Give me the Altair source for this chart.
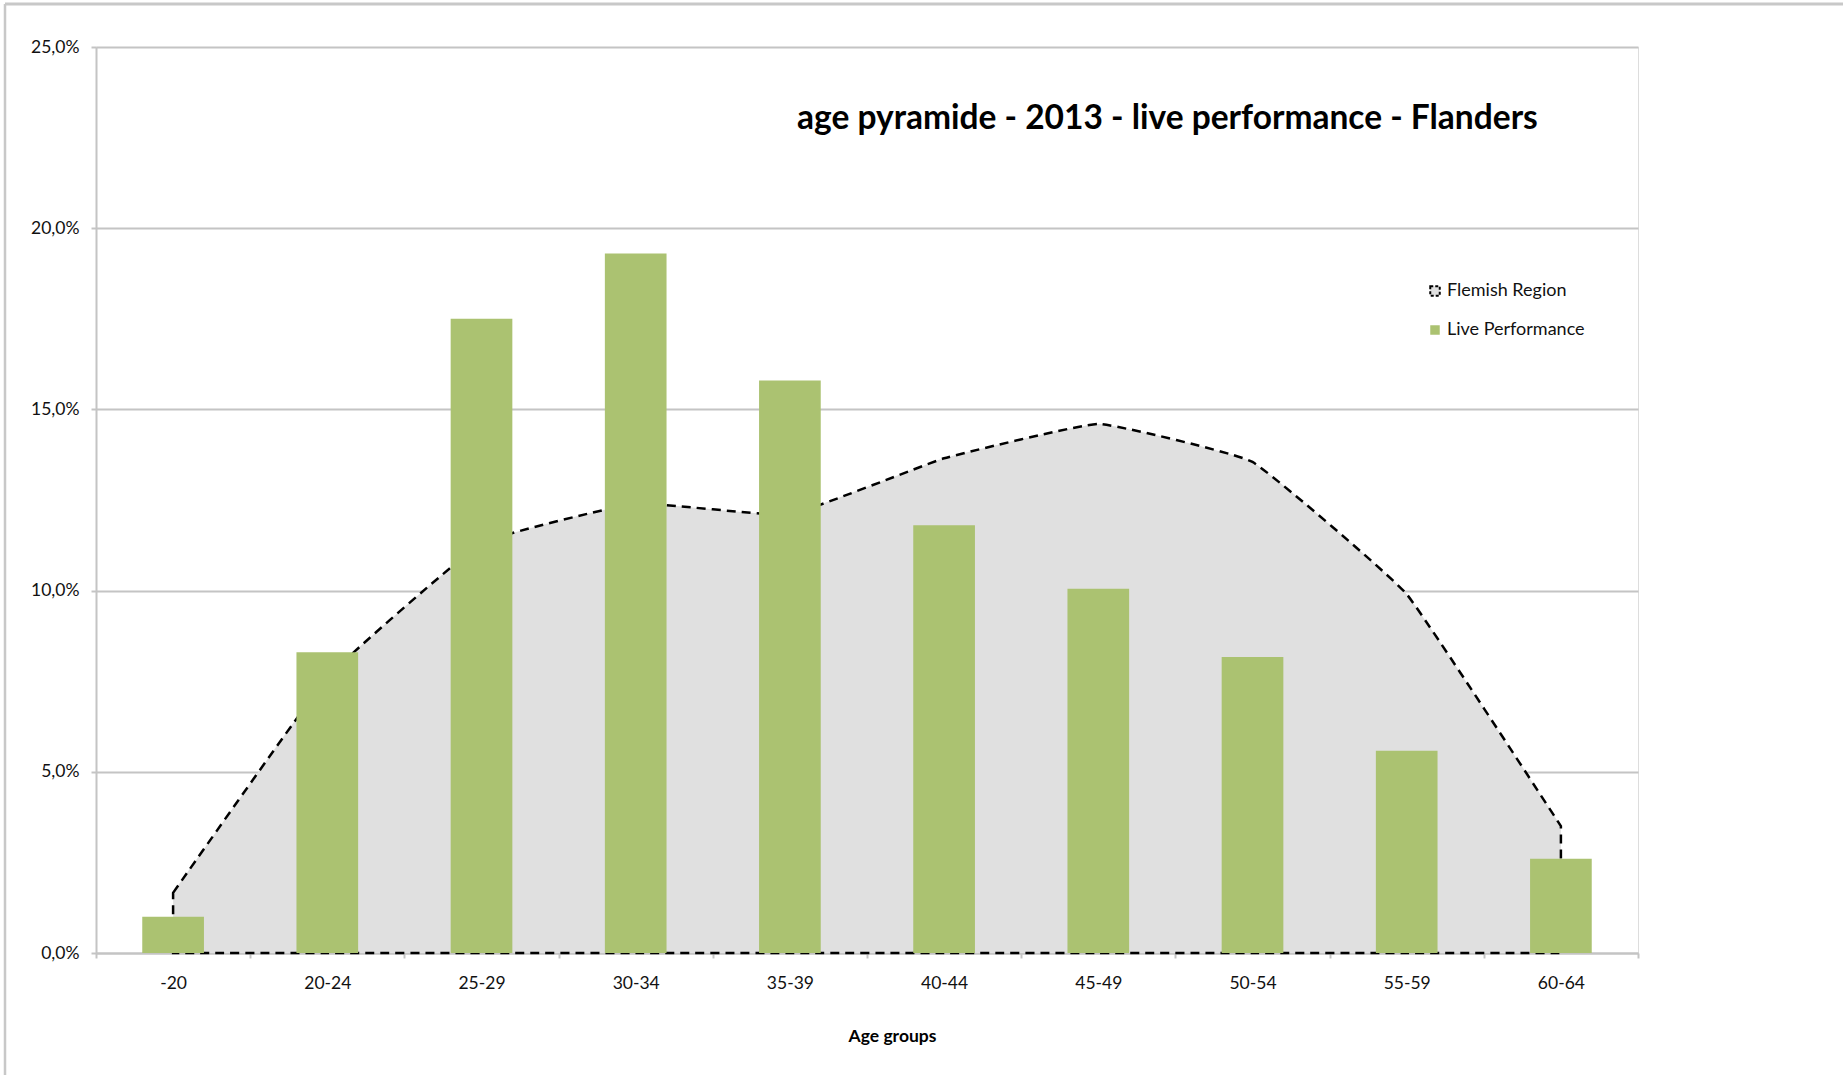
import altair as alt
import pandas as pd

# Age groups on the x axis
age_groups = ["-20", "20-24", "25-29", "30-34", "35-39",
              "40-44", "45-49", "50-54", "55-59", "60-64"]

# Share of each age group (fractions)
flemish_region = [0.0166, 0.076, 0.113, 0.124, 0.121,
                  0.1365, 0.146, 0.1355, 0.099, 0.035]
live_performance = [0.010, 0.083, 0.175, 0.193, 0.158,
                    0.118, 0.1005, 0.0817, 0.0558, 0.026]

series_names = ["Flemish Region", "Live Performance"]
y_ticks = [0, 0.05, 0.10, 0.15, 0.20, 0.25]

df = pd.DataFrame({
    "age": age_groups,
    "flemish": flemish_region,
    "live": live_performance,
})

# plot-area size and surrounding padding (pixels)
W, H = 1542, 906
PAD = {"left": 96, "top": 47, "right": 1843 - 96 - W, "bottom": 1075 - 47 - H}

FONT = "Lato"
GRID = "#c4c4c4"

x_enc = alt.X(
    "age:N",
    sort=age_groups,
    scale=alt.Scale(paddingInner=0, paddingOuter=0),
    axis=alt.Axis(
        title="Age groups",
        labelAngle=0,
        tickBand="extent",
        tickSize=5,
        tickColor=GRID,
        tickWidth=2,
        domainColor=GRID,
        domainWidth=2,
        grid=False,
        labelPadding=16,
        labelFont=FONT,
        labelFontSize=17.5,
        labelColor="#111",
        titleFont=FONT,
        titleFontSize=17.5,
        titleFontWeight="bold",
        titleColor="#000",
        titlePadding=36,
        titleX=796,
    ),
)

y_scale = alt.Scale(domain=[0, 0.25], nice=False)
y_axis = alt.Axis(
    title=None,
    values=y_ticks,
    labelExpr="replace(format(datum.value, '.1%'), '.', ',')",
    grid=True,
    gridColor=GRID,
    gridWidth=2,
    domainColor=GRID,
    domainWidth=2,
    tickColor=GRID,
    tickWidth=2,
    tickSize=5,
    labelPadding=12,
    labelFont=FONT,
    labelFontSize=17.5,
    labelColor="#111",
)

legend = alt.Legend(
    title=None,
    orient="none",
    legendX=1330,
    legendY=235,
    symbolType="square",
    symbolSize=90,
    symbolStrokeWidth=2,
    symbolDash=[3, 2],
    labelFont=FONT,
    labelFontSize=18,
    labelColor="#111",
    rowPadding=21,
    labelOffset=3,
)

fill_scale = alt.Scale(domain=series_names, range=["#e0e0e0", "#abc271"])
stroke_scale = alt.Scale(domain=series_names, range=["#000000", "transparent"])

region_area = alt.Chart(df).transform_calculate(
    series="'Flemish Region'"
).mark_area(
    interpolate="cardinal",
    tension=0.7,
    strokeDash=[9, 6],
    strokeWidth=2.5,
    opacity=1,
).encode(
    x=x_enc,
    y=alt.Y("flemish:Q", scale=y_scale, axis=y_axis),
    color=alt.Color("series:N", scale=fill_scale, legend=legend),
    stroke=alt.Stroke("series:N", scale=stroke_scale, legend=legend),
)

live_bars = alt.Chart(df).transform_calculate(
    series="'Live Performance'"
).mark_bar(
    width=alt.RelativeBandSize(0.4),
).encode(
    x=x_enc,
    y=alt.Y("live:Q", scale=y_scale, axis=y_axis),
    color=alt.Color("series:N", scale=fill_scale, legend=legend),
)

# chart-area frame (left and top edges)
frame_data = alt.Data(values=[{}])
frame_left = alt.Chart(frame_data).mark_rule(color="#c8c8c8", strokeWidth=2.5).encode(
    x=alt.value(5 - PAD["left"]),
    y=alt.value(4 - PAD["top"]),
    y2=alt.value(1075 - PAD["top"]),
)
frame_top = alt.Chart(frame_data).mark_rule(color="#c8c8c8", strokeWidth=3).encode(
    x=alt.value(5 - PAD["left"]),
    x2=alt.value(1843 - PAD["left"]),
    y=alt.value(4 - PAD["top"]),
)

chart = alt.layer(region_area, live_bars, frame_left, frame_top).properties(
    width=W,
    height=H,
    padding=PAD,
    autosize=alt.AutoSizeParams(type="none"),
    title=alt.TitleParams(
        "age pyramide - 2013 - live performance - Flanders",
        anchor="start",
        frame="group",
        font=FONT,
        fontSize=33.5,
        fontWeight="bold",
        color="#000",
        baseline="alphabetic",
        offset=0,
        dx=701,
        dy=160,
    ),
).configure_view(
    stroke=None,
).configure(
    background="white",
)

chart.save("out.html", embed_options={"renderer": "svg", "actions": False})
